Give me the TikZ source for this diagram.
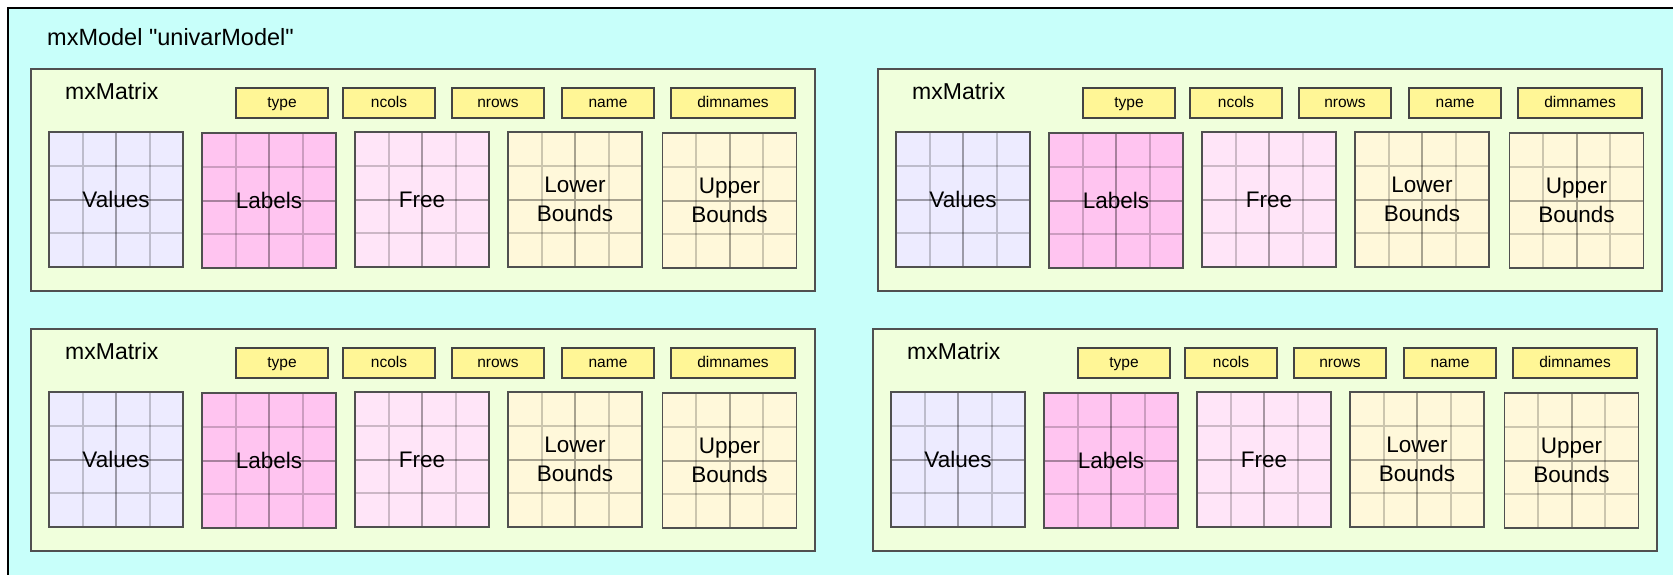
\documentclass[tikz,border=0pt]{standalone}
\usepackage{fontspec}
\setmainfont{Liberation Sans}
% family without TeX ligature mapping, so " stays a straight quote
\newfontfamily\plainsans{Liberation Sans}[Ligatures=ResetAll]
\usetikzlibrary{calc}

\definecolor{modelbg}{RGB}{200,255,250}
\definecolor{panelbg}{RGB}{240,255,220}
\definecolor{tagbg}{RGB}{255,246,150}
\definecolor{valbg}{RGB}{237,235,255}
\definecolor{labbg}{RGB}{255,196,240}
\definecolor{freebg}{RGB}{255,229,248}
\definecolor{bndbg}{RGB}{255,248,218}
\definecolor{edge}{RGB}{80,80,80}

\tikzset{
  modelbox/.style={draw=black, line width=2pt, fill=modelbg, anchor=north west,
    minimum width=1720pt, minimum height=620pt, inner sep=0pt},
  paneltitle/.style={anchor=base west, inner sep=0pt, font=\fontsize{23}{28}\selectfont},
  panelbox/.style={draw=edge, line width=1.6pt, fill=panelbg, anchor=north west,
    minimum width=784pt, minimum height=222pt, inner sep=0pt},
  tagbox/.style={draw=edge!85!black, line width=1.4pt, fill=tagbg, inner sep=0pt,
    minimum width=92pt, minimum height=30pt, text height=11.5pt, text depth=3.5pt,
    font=\fontsize{15.5}{18}\selectfont},
  widetag/.style={tagbox, minimum width=124pt},
  cellgrid/.style={draw=edge, line width=1.8pt, inner sep=0pt, align=center,
    minimum width=134pt, minimum height=135pt, font=\fontsize{22.5}{29}\selectfont,
    path picture={
      \foreach \f/\o in {0.25/0.2, 0.5/0.34, 0.75/0.2}{
        \draw[black, opacity=\o, line width=2pt]
          ($(path picture bounding box.north west)!\f!(path picture bounding box.north east)$) --
          ($(path picture bounding box.south west)!\f!(path picture bounding box.south east)$)
          ($(path picture bounding box.north west)!\f!(path picture bounding box.south west)$) --
          ($(path picture bounding box.north east)!\f!(path picture bounding box.south east)$);
      }
    }},
  panel/.pic={
    \node[panelbox] (-frame) at (0,0) {};
    \node[paneltitle] (-title) at (35,31) {mxMatrix};
    \node[tagbox] (-type) at (252,35) {type};
    \node[tagbox] (-ncols) at (359,35) {ncols};
    \node[tagbox] (-nrows) at (468,35) {nrows};
    \node[tagbox] (-name) at (578,35) {name};
    \node[widetag] (-dimnames) at (703,35) {dimnames};
    \node[cellgrid, fill=valbg] (-values) at (86,131.5) {Values};
    \node[cellgrid, fill=labbg] (-labels) at (239,132.5) {Labels};
    \node[cellgrid, fill=freebg] (-free) at (392,131.5) {Free};
    \node[cellgrid, fill=bndbg] (-lbound) at (545,131.5) {Lower\\Bounds};
    \node[cellgrid, fill=bndbg] (-ubound) at (699.5,132.5) {Upper\\Bounds};
  }
}

\begin{document}
\begin{tikzpicture}[x=1pt, y=-1pt]
  \useasboundingbox (0,0) rectangle (1673,574);
  \clip (0,0) rectangle (1673,574);

  % enclosing model
  \node[modelbox] (model) at (7,7) {};
  \node[anchor=base west, inner sep=0pt, font=\plainsans\fontsize{23.5}{28}\selectfont]
    (modeltitle) at (47,45) {mxModel "univarModel"};

  % the four matrices
  \pic (mA) at (30,68) {panel};
  \pic (mB) at (877,68) {panel};
  \pic (mC) at (30,328) {panel};
  \pic (mD) at (872,328) {panel};
\end{tikzpicture}
\end{document}
